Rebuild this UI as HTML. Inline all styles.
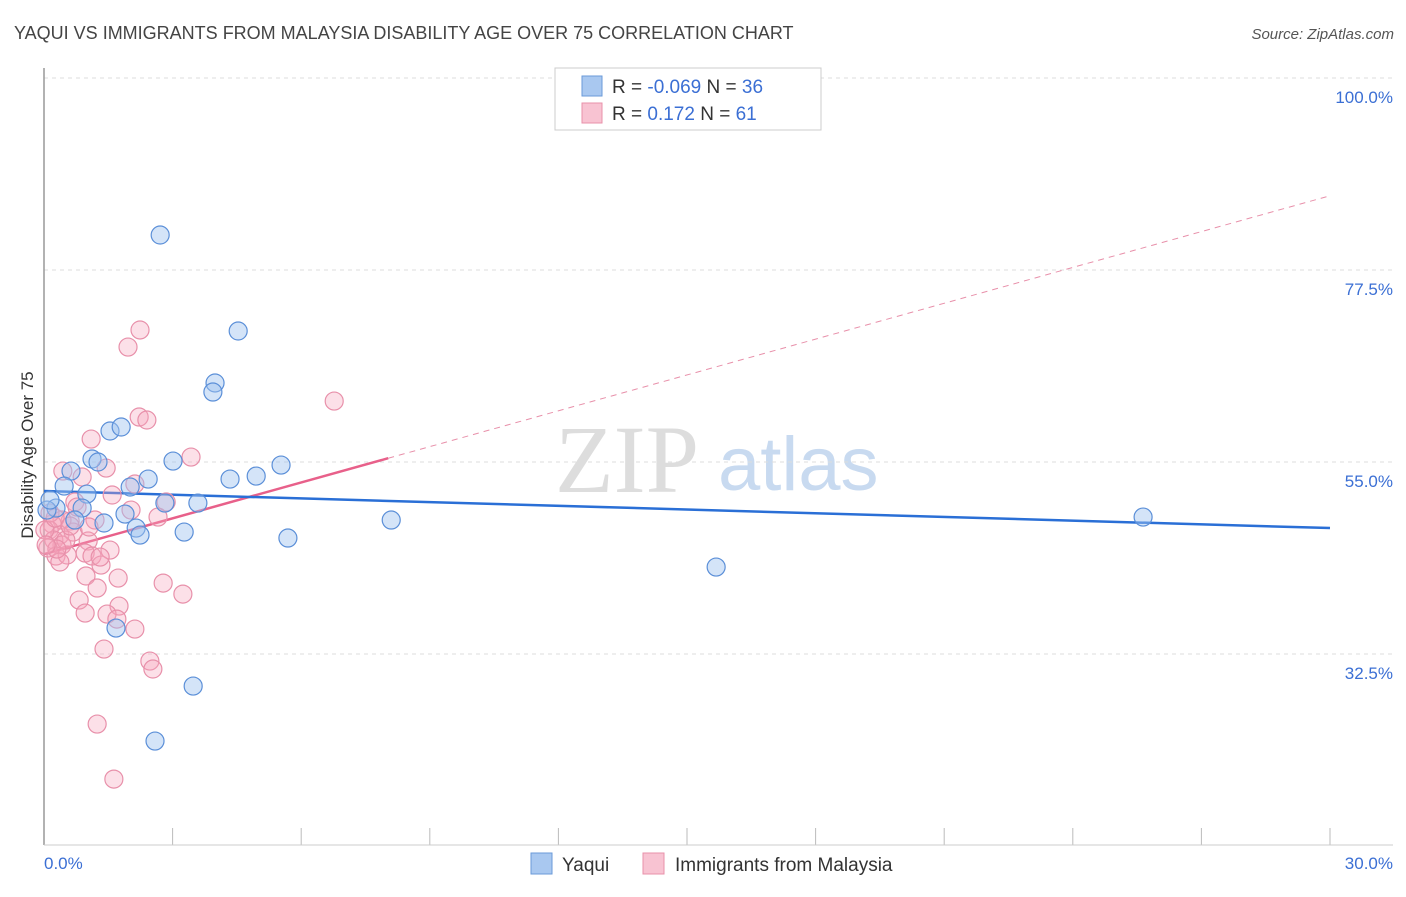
<!DOCTYPE html>
<html><head><meta charset="utf-8"><style>
body{margin:0;background:#fff;font-family:"Liberation Sans",sans-serif}
</style></head><body>
<svg width="1406" height="892" xmlns="http://www.w3.org/2000/svg" font-family="Liberation Sans, sans-serif">
<text x="14" y="39" font-size="18" fill="#444">YAQUI VS IMMIGRANTS FROM MALAYSIA DISABILITY AGE OVER 75 CORRELATION CHART</text>
<text x="1394" y="39" font-size="15" fill="#555" font-style="italic" text-anchor="end">Source: ZipAtlas.com</text>
<g>
<text x="555" y="492" font-size="96" fill="#ddd" font-family="Liberation Serif, serif">ZIP</text>
<text x="718" y="490" font-size="76" fill="#c8daf0">atlas</text></g>
<g id="grid"></g>
<line x1="44" y1="68" x2="44" y2="845" stroke="#999" stroke-width="1.5"/>
<line x1="44" y1="845" x2="1393" y2="845" stroke="#ccc"/>
<text transform="translate(33,455) rotate(-90)" font-size="17" fill="#333" text-anchor="middle">Disability Age Over 75</text>
<text x="44" y="869" font-size="17" fill="#3b6fd4">0.0%</text>
<text x="1393" y="869" font-size="17" fill="#3b6fd4" text-anchor="end">30.0%</text>
<g id="lines"></g>
<g id="pts"></g>
<g>
<rect x="555" y="68" width="266" height="62" fill="#fff" stroke="#ccc"/>
<rect x="582" y="76" width="20" height="20" fill="#a9c8f0" stroke="#6a9ad8"/>
<rect x="582" y="103" width="20" height="20" fill="#f8c3d2" stroke="#e890aa"/>
<text x="612" y="93" font-size="19" fill="#333">R = <tspan fill="#3b6fd4">-0.069</tspan>   N = <tspan fill="#3b6fd4">36</tspan></text>
<text x="612" y="120" font-size="19" fill="#333">R =    <tspan fill="#3b6fd4">0.172</tspan>   N =  <tspan fill="#3b6fd4">61</tspan></text>
</g>
<g>
<rect x="531" y="853" width="21" height="21" fill="#a9c8f0" stroke="#6a9ad8"/>
<text x="562" y="871" font-size="19" fill="#333">Yaqui</text>
<rect x="643" y="853" width="21" height="21" fill="#f8c3d2" stroke="#e890aa"/>
<text x="675" y="871" font-size="19" fill="#333">Immigrants from Malaysia</text>
</g>
</svg>
<script>
const yTicks=[100,77.5,55,32.5];
const yTickLabels=["100.0%","77.5%","55.0%","32.5%"];
const xTicks=[0,3,6,9,12,15,18,21,24,27,30];
const yaquiX=[2.71,4.53,3.99,3.94,1.54,1.80,1.12,1.26,3.01,5.53,2.43,4.34,4.95,0.63,0.47,1.0,2.01,3.59,2.82,0.89,0.28,0.07,1.89,2.15,2.24,3.27,1.40,0.72,5.69,8.1,25.64,15.68,1.68,3.48,2.59,0.14];
const yaquiY=[81.6,70.35,64.26,63.2,58.63,59.1,55.35,55.0,55.11,54.64,53.0,53.0,53.35,53.94,52.18,51.24,52.07,50.19,50.19,49.6,49.6,49.37,48.9,47.26,46.44,46.79,47.85,48.2,46.09,48.2,48.55,42.69,35.54,28.74,22.3,50.54];
const malX=[2.24,1.96,6.77,2.22,2.40,1.10,3.43,1.45,0.89,0.44,2.12,1.59,2.85,0.72,2.03,2.66,1.19,0.61,0.42,0.19,0.12,0.37,0.68,1.03,0.23,0.42,0.09,0.96,0.28,0.54,1.54,1.12,0.37,1.33,0.98,1.73,2.78,1.24,3.24,0.82,1.75,0.96,1.47,1.70,2.12,1.40,2.47,2.54,1.24,1.63,0.14,0.02,0.26,0.51,1.31,0.61,0.30,1.05,0.77,0.05];
const malY=[70.47,68.47,62.14,60.27,59.92,57.69,55.58,54.29,53.24,53.94,52.42,51.13,50.31,50.31,49.37,48.55,48.2,48.08,48.2,47.73,47.03,46.44,46.79,45.74,45.85,45.27,44.92,44.33,43.98,44.1,44.68,43.98,43.28,42.92,41.64,41.4,40.81,40.23,39.52,38.82,38.12,37.3,37.18,36.59,35.42,33.08,31.67,30.74,24.29,17.84,49.02,47.03,48.43,45.85,43.86,47.5,44.8,47.38,49.72,45.27];
const yaquiTrend=[51.6,47.26];
const malTrend=[44.2,86.2];
const malSolidEnd=8.03;
const NS="http://www.w3.org/2000/svg";
const sx=v=>44+v/30*1286;
const sy=v=>78+(100-v)*192/22.5;
function mk(tag,attrs,parent){const e=document.createElementNS(NS,tag);for(const k in attrs)e.setAttribute(k,attrs[k]);parent.appendChild(e);return e;}
const grid=document.getElementById('grid');
yTicks.forEach((t,i)=>{
 const l=mk('line',{x1:44,x2:1393,y1:sy(t),y2:sy(t),stroke:'#ddd','stroke-dasharray':'4,4'},grid);
 
 
 const tx=mk('text',{x:1393,y:sy(t)+25,'font-size':17,fill:'#3b6fd4','text-anchor':'end'},grid);
 tx.textContent=yTickLabels[i];
 
 
});
xTicks.forEach(t=>{
 const l=mk('line',{x1:sx(t),x2:sx(t),y1:828,y2:845,stroke:'#bbb'},grid);
 
 
});
const pts=document.getElementById('pts');
malX.forEach((x,i)=>{
 const c=mk('circle',{cx:sx(x),cy:sy(malY[i]),r:9,fill:'rgba(245,165,190,0.35)',stroke:'#e890aa','stroke-width':1.2},pts);
 
 
});
yaquiX.forEach((x,i)=>{
 const c=mk('circle',{cx:sx(x),cy:sy(yaquiY[i]),r:9,fill:'rgba(160,196,240,0.45)',stroke:'#5b8fd8','stroke-width':1.2},pts);
 
 
});
const lines=document.getElementById('lines');
const slope=(malTrend[1]-malTrend[0])/30;
const ym=malTrend[0]+slope*malSolidEnd;
let l1=mk('line',{x1:sx(malSolidEnd),y1:sy(ym),x2:sx(30),y2:sy(malTrend[1]),stroke:'#e890aa','stroke-width':1,'stroke-dasharray':'6,5'},lines);


let l2=mk('line',{x1:sx(0),y1:sy(malTrend[0]),x2:sx(malSolidEnd),y2:sy(ym),stroke:'#e8608a','stroke-width':2.5},lines);


let l3=mk('line',{x1:sx(0),y1:sy(yaquiTrend[0]),x2:sx(30),y2:sy(yaquiTrend[1]),stroke:'#2a6fd6','stroke-width':2.5},lines);


</script>
</body></html>
